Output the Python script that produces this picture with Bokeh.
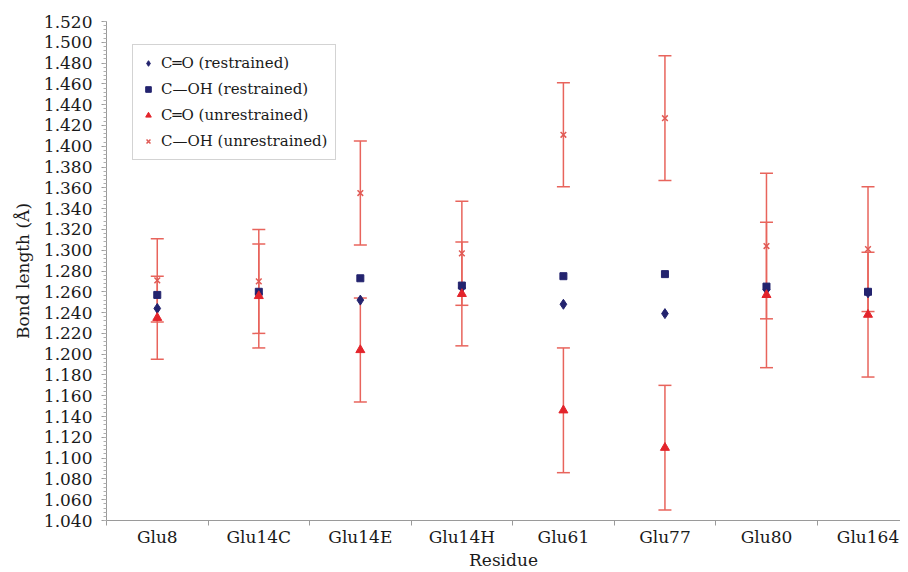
from bokeh.plotting import figure
from bokeh.models import (ColumnDataSource, Range1d, FixedTicker, Whisker, TeeHead,
                          Legend, LegendItem, PrintfTickFormatter)
from bokeh.embed import file_html
from bokeh.resources import INLINE

# ---- data ----
residues = ["Glu8", "Glu14C", "Glu14E", "Glu14H", "Glu61", "Glu77", "Glu80", "Glu164"]
co_restrained = [1.244, 1.258, 1.252, 1.264, 1.248, 1.239, 1.262, 1.259]
coh_restrained = [1.257, 1.260, 1.273, 1.266, 1.275, 1.277, 1.265, 1.260]
co_unrestrained = [1.235, 1.256, 1.204, 1.258, 1.146, 1.110, 1.257, 1.238]
co_unrestrained_err = [0.040, 0.050, 0.050, 0.050, 0.060, 0.060, 0.070, 0.060]
coh_unrestrained = [1.271, 1.270, 1.355, 1.297, 1.411, 1.427, 1.304, 1.301]
coh_unrestrained_err = [0.040, 0.050, 0.050, 0.050, 0.050, 0.060, 0.070, 0.060]
y_ticks = [1.040, 1.060, 1.080, 1.100, 1.120, 1.140, 1.160, 1.180, 1.200, 1.220,
           1.240, 1.260, 1.280, 1.300, 1.320, 1.340, 1.360, 1.380, 1.400, 1.420,
           1.440, 1.460, 1.480, 1.500, 1.520]

xpos = [i + 1 for i in range(len(residues))]
src = ColumnDataSource(dict(
    x=xpos,
    co_r=co_restrained,
    coh_r=coh_restrained,
    co_u=co_unrestrained,
    co_u_lo=[v - e for v, e in zip(co_unrestrained, co_unrestrained_err)],
    co_u_hi=[v + e for v, e in zip(co_unrestrained, co_unrestrained_err)],
    coh_u=coh_unrestrained,
    coh_u_lo=[v - e for v, e in zip(coh_unrestrained, coh_unrestrained_err)],
    coh_u_hi=[v + e for v, e in zip(coh_unrestrained, coh_unrestrained_err)],
))

FONT = "DejaVu Serif"
NAVY = "#23236e"
RED = "#e3242b"
XRED = "#e05a55"
ERR = "#e8645c"
TXT = "#1a1a1a"

p = figure(width=900, height=572, output_backend="svg", toolbar_location=None,
           x_range=Range1d(0.5, 8.32), y_range=Range1d(1.040, 1.520),
           min_border_left=106, min_border_right=0, min_border_top=21, min_border_bottom=10)
p.outline_line_color = None
p.xgrid.visible = False
p.ygrid.visible = False
p.background_fill_color = "white"

# error bars
for lo, hi in (("co_u_lo", "co_u_hi"), ("coh_u_lo", "coh_u_hi")):
    w = Whisker(source=src, base="x", lower=lo, upper=hi, dimension="height",
                line_color=ERR, line_width=1.5,
                upper_head=TeeHead(size=13, line_color=ERR, line_width=1.5),
                lower_head=TeeHead(size=13, line_color=ERR, line_width=1.5),
                level="underlay")
    p.add_layout(w)

r1 = p.scatter("x", "co_r", source=src, marker="diamond", size=10, color=NAVY)
r2 = p.scatter("x", "coh_r", source=src, marker="square", size=7, color=NAVY)
r3 = p.scatter("x", "co_u", source=src, marker="triangle", size=9, color=RED)
r4 = p.scatter("x", "coh_u", source=src, marker="x", size=8, line_color=XRED, line_width=1.5)

# axes
p.xaxis.ticker = FixedTicker(ticks=xpos, minor_ticks=[i + 0.5 for i in range(len(residues) + 1)])
p.xaxis.major_label_overrides = {x: n for x, n in zip(xpos, residues)}
p.xaxis.minor_tick_out = 5
p.xaxis.minor_tick_in = 0
p.xaxis.axis_label = "Residue"

p.yaxis.ticker = FixedTicker(ticks=y_ticks,
                             minor_ticks=[round(1.040 + i * 0.004, 3) for i in range(121)])
p.yaxis.formatter = PrintfTickFormatter(format="%.3f")
p.yaxis.major_tick_out = 5
p.yaxis.major_tick_in = 0
p.yaxis.minor_tick_out = 3
p.yaxis.minor_tick_in = 0
p.yaxis.axis_label = "Bond length (Å)"

for ax in (p.xaxis[0], p.yaxis[0]):
    ax.axis_line_color = "#9a9a9a"
    ax.major_tick_line_color = "#9a9a9a"
    ax.minor_tick_line_color = "#b0b0b0"
    ax.major_label_text_font = FONT
    ax.major_label_text_font_size = "17px"
    ax.major_label_text_color = TXT
    ax.axis_label_text_font = FONT
    ax.axis_label_text_font_size = "17px"
    ax.axis_label_text_font_style = "normal"
    ax.axis_label_text_color = TXT

p.xaxis.major_tick_line_color = None
p.xaxis.minor_tick_line_color = "#9a9a9a"
p.xaxis.major_label_standoff = 0
p.xaxis.axis_label_standoff = 0
p.yaxis.major_label_standoff = 9
p.yaxis.axis_label_standoff = 8

legend = Legend(items=[
    LegendItem(label="C\u2550O (restrained)", renderers=[r1]),
    LegendItem(label="C\u2014OH (restrained)", renderers=[r2]),
    LegendItem(label="C\u2550O (unrestrained)", renderers=[r3]),
    LegendItem(label="C\u2014OH (unrestrained)", renderers=[r4]),
], location=(26, 360))
legend.label_text_font = FONT
legend.label_text_font_size = "15px"
legend.label_text_color = TXT
legend.border_line_color = "#a8a8a8"
legend.border_line_width = 1
legend.background_fill_alpha = 1
legend.glyph_width = 14
legend.glyph_height = 20
legend.label_standoff = 6
legend.spacing = 6
legend.padding = 8
legend.margin = 0
p.add_layout(legend, "center")

open("out.html", "w").write(file_html(p, INLINE))
